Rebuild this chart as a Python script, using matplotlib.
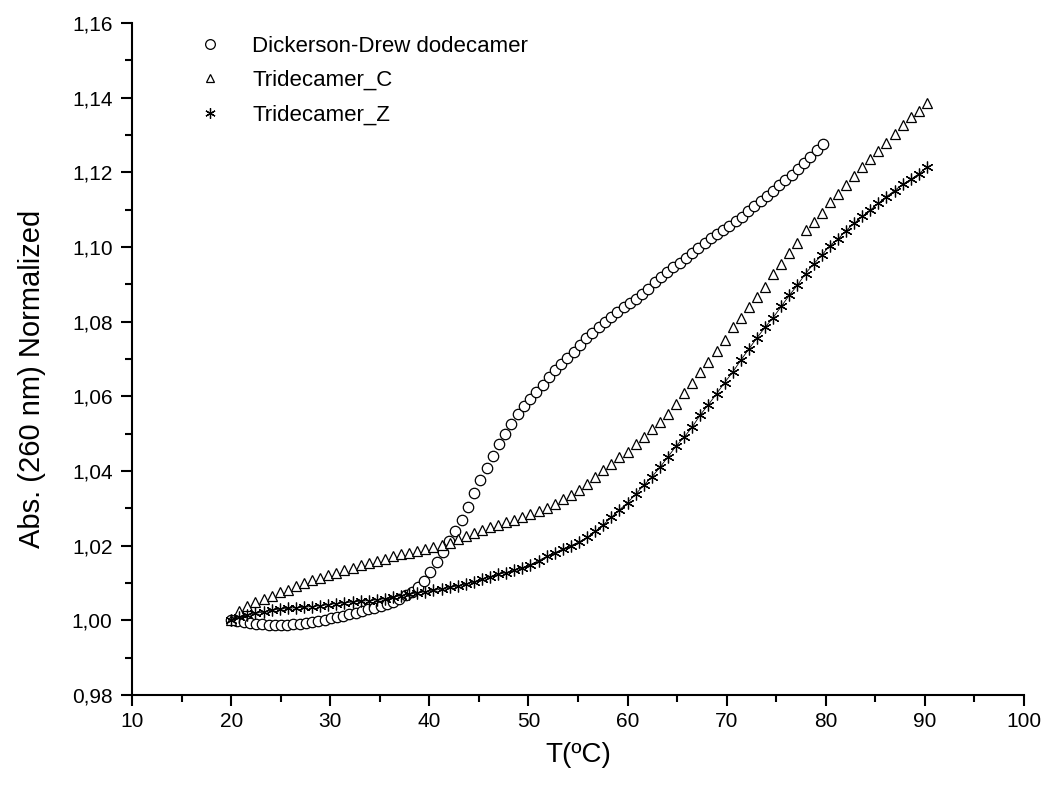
import numpy as np
import matplotlib
matplotlib.use("Agg")
import matplotlib.pyplot as plt
from matplotlib.ticker import MultipleLocator, FuncFormatter
from matplotlib.lines import Line2D

# ---- data ----
dd_T_start, dd_T_end, dd_n = 20.0, 79.7, 96
dd_abs = [1.0000, 0.9998, 0.9996, 0.9993, 0.9990, 0.9989, 0.9988, 0.9988, 0.9988, 0.9988,
          0.9989, 0.9991, 0.9992, 0.9995, 0.9998, 1.0001, 1.0005, 1.0008, 1.0012, 1.0016,
          1.0019, 1.0024, 1.0029, 1.0033, 1.0038, 1.0043, 1.0050, 1.0058, 1.0067, 1.0077,
          1.0090, 1.0106, 1.0129, 1.0155, 1.0183, 1.0213, 1.0240, 1.0270, 1.0303, 1.0340,
          1.0375, 1.0409, 1.0441, 1.0471, 1.0499, 1.0526, 1.0554, 1.0575, 1.0593, 1.0611,
          1.0630, 1.0652, 1.0670, 1.0687, 1.0702, 1.0720, 1.0738, 1.0755, 1.0771, 1.0785,
          1.0799, 1.0812, 1.0825, 1.0839, 1.0851, 1.0862, 1.0873, 1.0887, 1.0905, 1.0920,
          1.0933, 1.0946, 1.0958, 1.0971, 1.0985, 1.0998, 1.1010, 1.1023, 1.1035, 1.1046,
          1.1057, 1.1069, 1.1081, 1.1097, 1.1111, 1.1124, 1.1136, 1.1150, 1.1165, 1.1179,
          1.1193, 1.1208, 1.1224, 1.1241, 1.1260, 1.1277]

tri_T_start, tri_T_end, tri_n = 20.0, 90.2, 87
triC_abs = [1.0000, 1.0025, 1.0038, 1.0048, 1.0056, 1.0065, 1.0075, 1.0082, 1.0091, 1.0101,
            1.0108, 1.0113, 1.0121, 1.0127, 1.0134, 1.0140, 1.0147, 1.0153, 1.0158, 1.0165,
            1.0171, 1.0177, 1.0180, 1.0186, 1.0192, 1.0197, 1.0202, 1.0208, 1.0217, 1.0226,
            1.0233, 1.0243, 1.0250, 1.0256, 1.0263, 1.0268, 1.0276, 1.0284, 1.0293, 1.0301,
            1.0311, 1.0324, 1.0337, 1.0350, 1.0366, 1.0385, 1.0404, 1.0420, 1.0438, 1.0452,
            1.0471, 1.0492, 1.0512, 1.0532, 1.0553, 1.0579, 1.0609, 1.0637, 1.0664, 1.0692,
            1.0721, 1.0752, 1.0785, 1.0811, 1.0840, 1.0866, 1.0894, 1.0927, 1.0955, 1.0984,
            1.1012, 1.1046, 1.1068, 1.1092, 1.1120, 1.1142, 1.1167, 1.1190, 1.1213, 1.1235,
            1.1256, 1.1279, 1.1304, 1.1326, 1.1347, 1.1365, 1.1385]

triZ_abs = [1.0000, 1.0009, 1.0014, 1.0019, 1.0022, 1.0027, 1.0030, 1.0032, 1.0034, 1.0035,
            1.0037, 1.0039, 1.0042, 1.0045, 1.0047, 1.0049, 1.0051, 1.0053, 1.0055, 1.0058,
            1.0062, 1.0066, 1.0070, 1.0073, 1.0077, 1.0080, 1.0084, 1.0088, 1.0092, 1.0097,
            1.0103, 1.0110, 1.0117, 1.0123, 1.0128, 1.0134, 1.0141, 1.0149, 1.0160, 1.0171,
            1.0181, 1.0191, 1.0200, 1.0210, 1.0222, 1.0238, 1.0256, 1.0276, 1.0296, 1.0315,
            1.0338, 1.0362, 1.0384, 1.0410, 1.0438, 1.0467, 1.0491, 1.0518, 1.0551, 1.0578,
            1.0607, 1.0637, 1.0665, 1.0697, 1.0727, 1.0757, 1.0785, 1.0811, 1.0841, 1.0871,
            1.0898, 1.0929, 1.0955, 1.0978, 1.1004, 1.1021, 1.1044, 1.1063, 1.1082, 1.1099,
            1.1117, 1.1135, 1.1151, 1.1168, 1.1181, 1.1196, 1.1214]

labels = ["Dickerson-Drew dodecamer", "Tridecamer_C", "Tridecamer_Z"]
x_label = "T(ºC)"
y_label = "Abs. (260 nm) Normalized"

dd_T = np.linspace(dd_T_start, dd_T_end, dd_n)
tri_T = np.linspace(tri_T_start, tri_T_end, tri_n)

# ---- figure ----
plt.rcParams['font.family'] = ['Liberation Sans', 'DejaVu Sans']
fig = plt.figure(figsize=(10.53, 7.94), dpi=100)
ax = fig.add_axes([0.1254, 0.1247, 0.8471, 0.8463])

star = (6, 2, 0)
ax.plot(dd_T, dd_abs, linestyle='none', marker='o', markersize=7.5,
        markerfacecolor='white', markeredgecolor='black', markeredgewidth=0.9, zorder=3)
ax.plot(tri_T, triC_abs, linestyle='none', marker='^', markersize=7.5,
        markerfacecolor='white', markeredgecolor='black', markeredgewidth=0.9, zorder=3)
ax.plot(tri_T, triZ_abs, linestyle='-', linewidth=0.6, color='black',
        marker=star, markersize=8.5, markeredgewidth=0.9, zorder=4)

ax.set_xlim(10, 100)
ax.set_ylim(0.98, 1.16)
ax.xaxis.set_major_locator(MultipleLocator(10))
ax.xaxis.set_minor_locator(MultipleLocator(5))
ax.yaxis.set_major_locator(MultipleLocator(0.02))
ax.yaxis.set_minor_locator(MultipleLocator(0.01))
ax.yaxis.set_major_formatter(FuncFormatter(lambda v, p: f"{v:.2f}".replace('.', ',')))

for s in ['top', 'right']:
    ax.spines[s].set_visible(False)
for s in ['left', 'bottom']:
    ax.spines[s].set_linewidth(1.5)

ax.tick_params(which='major', direction='out', length=8, width=1.5, labelsize=15)
ax.tick_params(axis='y', which='major', pad=6)
ax.tick_params(axis='x', which='major', pad=4)
ax.tick_params(which='minor', direction='out', length=5, width=1.5)

ax.set_xlabel(x_label, fontsize=20)
ax.xaxis.set_label_coords(0.5, -0.07)
ax.set_ylabel(y_label, fontsize=21)
ax.yaxis.set_label_coords(-0.097, 0.47)

handles = [
    Line2D([], [], linestyle='none', marker='o', markersize=7, markerfacecolor='white',
           markeredgecolor='black', markeredgewidth=0.9),
    Line2D([], [], linestyle='none', marker='^', markersize=6, markerfacecolor='white',
           markeredgecolor='black', markeredgewidth=0.9),
    Line2D([], [], linestyle='none', marker=star, markersize=7.5, color='black',
           markeredgewidth=0.9),
]
ax.legend(handles, labels, loc='upper left', bbox_to_anchor=(0.075, 0.981),
          frameon=False, fontsize=16, handlelength=1.0, handletextpad=1.4,
          labelspacing=0.6, borderpad=0.0, borderaxespad=0.0)

fig.savefig("out.png", dpi=100)
